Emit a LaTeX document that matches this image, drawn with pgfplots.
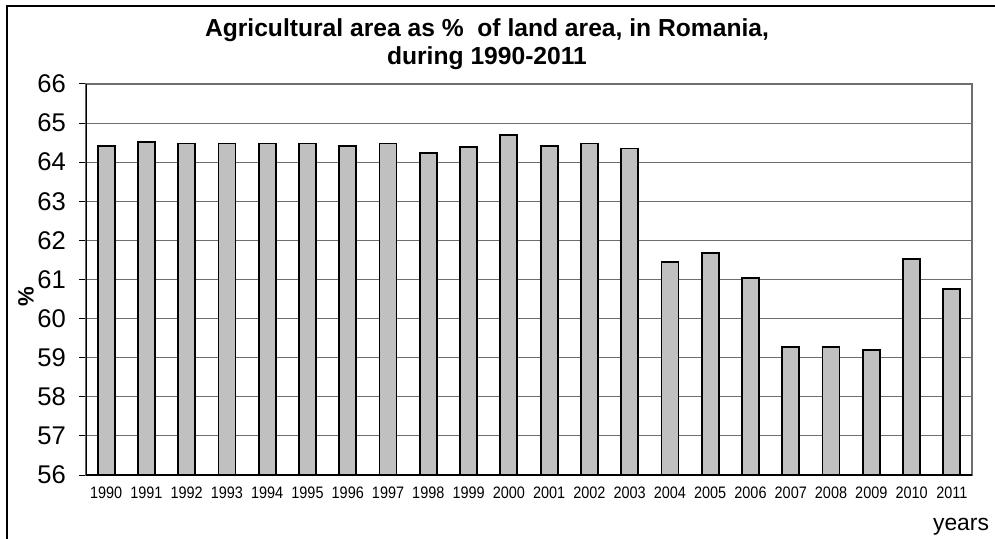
\documentclass[border=0pt]{standalone}
\usepackage{pgfplots}
\pgfplotsset{compat=1.18}
\usepackage{fontspec}
\setmainfont{Liberation Sans}
\newfontfamily\narrowfont[FakeStretch=0.87]{Liberation Sans}
\definecolor{barfill}{RGB}{192,192,192}
\definecolor{gridc}{RGB}{110,110,110}
\begin{document}
\begin{tikzpicture}[x=0.7227pt,y=0.7227pt]
\path[use as bounding box] (0,0) rectangle (995,539);
\fill[white] (0,0) rectangle (995,539);
\draw[line width=1.2pt] (7,0) -- (7,533) -- (995,533);
\node[font=\bfseries\fontsize{17.8}{20}\selectfont, align=center] at (487,495)
  {Agricultural area as \% \ of land area, in Romania,\\during 1990-2011};
\node[font=\bfseries\fontsize{16}{19}\selectfont, rotate=90] at (26,242) {\%};
\node[font=\fontsize{16.5}{19}\selectfont] at (961,12) {years};
\begin{axis}[
  at={(62.15pt,46.25pt)}, anchor=south west,
  scale only axis, width=640.3pt, height=282.6pt,
  ybar, bar width=12.3pt,
  xmin=-0.5, xmax=21.5, ymin=56, ymax=66,
  ytick={56,57,...,66},
  xtick={0,...,21},
  xticklabels={1990,1991,1992,1993,1994,1995,1996,1997,1998,1999,2000,2001,2002,2003,2004,2005,2006,2007,2008,2009,2010,2011},
  minor xtick={-0.5,0.5,...,21.5},
  tick align=outside, tick pos=left,
  major tick length=5pt, minor tick length=4pt,
  xtick style={draw=none},
  minor tick style={black, line width=0.7pt},
  ytick style={black, line width=0.7pt},
  ymajorgrids, grid style={gridc, line width=0.8pt},
  axis line style={gridc, line width=0.9pt},
  /pgf/number format/assume math mode=true,
  yticklabel style={font=\fontsize{18.5}{20}\selectfont, xshift=-6pt},
  xticklabel style={font=\narrowfont\fontsize{12}{13}\selectfont},
]
\addplot[fill=barfill, draw=black, line width=1.3pt] coordinates {
(0,64.41) (1,64.51) (2,64.48) (3,64.48) (4,64.48) (5,64.48) (6,64.41) (7,64.48)
(8,64.23) (9,64.38) (10,64.69) (11,64.41) (12,64.48) (13,64.35) (14,61.44)
(15,61.67) (16,61.03) (17,59.28) (18,59.28) (19,59.19) (20,61.53) (21,60.76)
};
\draw[black, line width=1pt] (rel axis cs:0,1) -- (rel axis cs:0,0) -- (rel axis cs:1,0);
\end{axis}
\end{tikzpicture}
\end{document}
